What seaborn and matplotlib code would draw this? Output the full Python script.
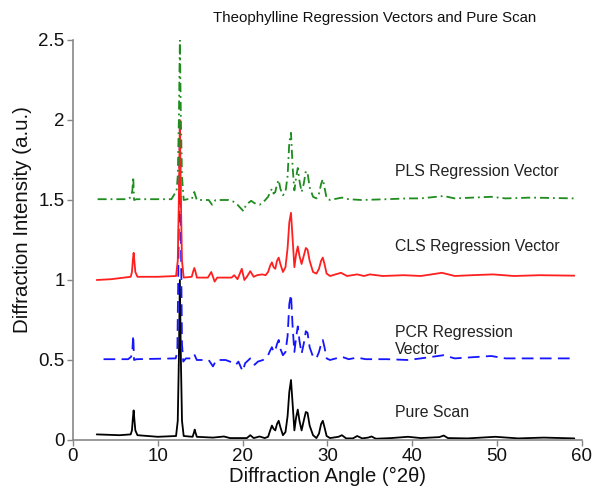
import matplotlib
matplotlib.use("Agg")
import matplotlib.pyplot as plt
import seaborn as sns

# Pure scan (black, offset 0)
pure_x = [2.8, 5.5, 6.8, 6.95, 7.05, 7.15, 7.25, 7.35, 7.6, 10.0,
          12.15, 12.35, 12.48, 12.6, 12.72, 12.85, 13.05,
          14.1, 14.25, 14.35, 14.45, 14.6,
          16.5, 17.8, 18.5, 20.5, 20.9, 21.3, 22.0, 22.6,
          23.0, 23.25, 23.45, 23.65, 23.85, 24.05, 24.25, 24.45,
          24.75, 25.05, 25.3, 25.5, 25.7, 25.9, 26.1, 26.3,
          26.5, 26.7, 26.95, 27.2, 27.45, 27.65, 27.9, 28.3,
          28.7, 29.0, 29.25, 29.45, 29.65, 29.9, 30.3,
          31.3, 31.7, 32.2, 33.0, 33.5, 34.1, 34.8, 35.2, 35.7,
          37.5, 39.5, 41.0, 43.2, 43.7, 44.2, 46.5, 49.8, 52.5,
          55.5, 59.1]
pure_y = [0.035, 0.03, 0.035, 0.06, 0.13, 0.185, 0.12, 0.06, 0.03, 0.02,
          0.025, 0.12, 0.5, 1.0, 0.5, 0.12, 0.025,
          0.02, 0.045, 0.065, 0.045, 0.02,
          0.015, 0.022, 0.012, 0.012, 0.03, 0.012, 0.022, 0.012,
          0.02, 0.06, 0.09, 0.07, 0.06, 0.1, 0.12, 0.08,
          0.03, 0.05, 0.15, 0.3, 0.375, 0.22, 0.06, 0.14,
          0.19, 0.12, 0.06, 0.12, 0.175, 0.17, 0.09, 0.03,
          0.012, 0.04, 0.1, 0.12, 0.08, 0.025, 0.012,
          0.02, 0.03, 0.01, 0.01, 0.025, 0.01, 0.015, 0.022, 0.008,
          0.012, 0.02, 0.012, 0.018, 0.028, 0.012, 0.01, 0.02, 0.01,
          0.015, 0.01]

# PCR regression vector (blue dashed, offset 0.5)
pcr_x = [3.6, 6.5, 6.85, 7.0, 7.1, 7.2, 7.5,
         12.1, 12.3, 12.45, 12.6, 12.72, 12.85, 13.0, 13.3,
         14.0, 14.3, 14.6, 16.0, 16.5, 16.9, 18.0, 18.5,
         19.2, 19.5, 20.0, 20.3, 20.9, 21.4, 21.8, 22.4,
         23.0, 23.25, 23.45, 23.65, 23.85, 24.05, 24.25, 24.45,
         24.75, 25.05, 25.3, 25.5, 25.7, 25.9, 26.1, 26.3,
         26.5, 26.7, 26.95, 27.2, 27.45, 27.65, 27.9, 28.3,
         28.7, 29.0, 29.25, 29.45, 29.65, 29.9, 30.3,
         31.7, 32.5, 33.5, 34.5, 37.0, 39.5, 41.0, 43.7, 45.0,
         49.3, 51.0, 54.0, 59.1]
pcr_y = [0.505, 0.505, 0.52, 0.56, 0.655, 0.50, 0.505,
         0.51, 0.55, 1.2, 1.95, 1.3, 0.6, 0.49, 0.51,
         0.51, 0.535, 0.5, 0.5, 0.46, 0.5, 0.5, 0.49,
         0.47, 0.49, 0.43, 0.48, 0.51, 0.47, 0.49, 0.5,
         0.53, 0.56, 0.58, 0.55, 0.56, 0.6, 0.625, 0.57,
         0.53, 0.55, 0.65, 0.85, 0.91, 0.7, 0.55, 0.64,
         0.71, 0.62, 0.54, 0.6, 0.68, 0.67, 0.58, 0.52,
         0.51, 0.55, 0.6, 0.625, 0.58, 0.51, 0.5,
         0.52, 0.505, 0.515, 0.505, 0.505, 0.5, 0.51, 0.53, 0.51,
         0.525, 0.51, 0.51, 0.51]

# CLS regression vector (red, offset 1.0)
cls_x = [2.8, 4.5, 6.8, 6.95, 7.05, 7.15, 7.25, 7.35, 7.6, 10.0,
         12.15, 12.35, 12.48, 12.6, 12.72, 12.85, 13.05,
         14.0, 14.15, 14.3, 14.45, 14.6,
         15.9, 16.3, 16.7, 17.0, 18.7, 19.0, 19.4, 19.9,
         20.2, 20.5, 20.9, 21.3, 21.7, 22.3, 22.7,
         23.0, 23.25, 23.45, 23.65, 23.85, 24.05, 24.25, 24.45,
         24.75, 25.05, 25.3, 25.5, 25.7, 25.9, 26.1, 26.3,
         26.5, 26.7, 26.95, 27.2, 27.45, 27.65, 27.9, 28.3,
         28.7, 29.0, 29.25, 29.45, 29.65, 29.9, 30.3,
         31.6, 32.3, 33.5, 34.3, 35.0, 36.5, 39.0, 41.0, 43.5,
         45.0, 47.0, 49.5, 52.0, 55.0, 59.1]
cls_y = [1.0, 1.005, 1.02, 1.05, 1.12, 1.17, 1.11, 1.05, 1.02, 1.02,
         1.025, 1.12, 1.5, 2.0, 1.5, 1.12, 1.015,
         1.02, 1.05, 1.075, 1.05, 1.015,
         1.015, 1.05, 0.99, 1.015, 1.015, 1.03, 1.005, 1.07,
         1.0, 1.02, 1.055, 1.02, 1.03, 1.035, 1.03,
         1.05, 1.09, 1.11, 1.08, 1.07, 1.12, 1.14, 1.1,
         1.05, 1.08, 1.2, 1.36, 1.42, 1.25, 1.08, 1.16,
         1.21, 1.15, 1.1, 1.15, 1.2, 1.19, 1.12, 1.05,
         1.04, 1.07, 1.12, 1.14, 1.1, 1.04, 1.025,
         1.045, 1.025, 1.035, 1.025, 1.035, 1.025, 1.03, 1.025, 1.045,
         1.025, 1.03, 1.035, 1.025, 1.03, 1.027]

# PLS regression vector (green dash-dot, offset 1.5)
pls_x = [2.9, 6.5, 6.85, 7.0, 7.1, 7.2, 7.5, 11.6, 12.0,
         12.2, 12.35, 12.48, 12.6, 12.72, 12.85, 13.05, 13.5,
         14.0, 14.3, 14.6, 16.0, 16.4, 16.8, 18.3, 18.9,
         19.4, 20.1, 20.4, 21.0, 21.4, 22.0, 22.5,
         23.0, 23.25, 23.45, 23.65, 23.85, 24.05, 24.25, 24.45,
         24.75, 25.05, 25.3, 25.5, 25.7, 25.9, 26.1, 26.3,
         26.5, 26.7, 26.95, 27.2, 27.45, 27.65, 27.9, 28.3,
         28.7, 29.0, 29.25, 29.45, 29.65, 29.9, 30.3,
         31.7, 32.5, 34.0, 37.0, 39.5, 41.0, 43.7, 45.0,
         49.3, 51.0, 54.0, 59.1]
pls_y = [1.505, 1.505, 1.52, 1.56, 1.645, 1.5, 1.505, 1.505, 1.54,
         1.55, 1.65, 2.0, 2.5, 2.0, 1.65, 1.5, 1.505,
         1.505, 1.55, 1.5, 1.5, 1.47, 1.5, 1.5, 1.49,
         1.47, 1.43, 1.47, 1.495, 1.48, 1.47, 1.49,
         1.52, 1.55, 1.57, 1.54, 1.55, 1.6, 1.625, 1.57,
         1.53, 1.55, 1.65, 1.86, 1.92, 1.7, 1.56, 1.64,
         1.70, 1.62, 1.55, 1.6, 1.68, 1.67, 1.58, 1.52,
         1.51, 1.54, 1.6, 1.63, 1.58, 1.51, 1.5,
         1.515, 1.505, 1.5, 1.505, 1.51, 1.51, 1.525, 1.51,
         1.52, 1.51, 1.515, 1.51]

trace_labels = ["Pure Scan", "PCR Regression\nVector",
                "CLS Regression Vector", "PLS Regression Vector"]
label_x = [38.0, 38.0, 38.0, 38.0]
label_y = [0.17, 0.62, 1.21, 1.675]

x_ticks = [0, 10, 20, 30, 40, 50, 60]
y_ticks = [0, 0.5, 1, 1.5, 2, 2.5]
y_tick_labels = ["0", "0.5", "1", "1.5", "2", "2.5"]


def main():
    sns.set_style("ticks")
    plt.rcParams['font.family'] = ['Liberation Sans', 'DejaVu Sans']

    fig = plt.figure(figsize=(5.92, 4.92), dpi=100)
    ax = fig.add_axes([0.1233, 0.1057, 0.8597, 0.813])

    traces = [
        (pure_x, pure_y, "black", None),
        (pcr_x, pcr_y, "#1515ff", (6.5, 3.5)),
        (cls_x, cls_y, "#ff1f1f", None),
        (pls_x, pls_y, "#1f8c1f", (5, 2.2, 1, 2.2)),
    ]
    for xs, ys, col, dash in traces:
        sns.lineplot(x=xs, y=ys, color=col, lw=1.3, sort=False,
                     estimator=None, ax=ax)
        if dash is not None:
            ax.lines[-1].set_dashes(dash)

    for txt, tx, ty in zip(trace_labels, label_x, label_y):
        ax.text(tx, ty, txt, fontsize=11.4, color="#222222",
                ha="left", va="center", linespacing=1.15)

    ax.set_xlim(0, 60)
    ax.set_ylim(0, 2.5)
    ax.set_xticks(x_ticks)
    ax.set_yticks(y_ticks)
    ax.set_yticklabels(y_tick_labels)
    ax.tick_params(axis='both', direction='out', length=4, width=1,
                   color="#888888", labelsize=13.5, labelcolor="#111111", pad=2)

    for side in ['top', 'right']:
        ax.spines[side].set_visible(False)
    for side in ['left', 'bottom']:
        ax.spines[side].set_color("#888888")
        ax.spines[side].set_linewidth(1.2)

    ax.set_xlabel("Diffraction Angle (°2θ)", fontsize=14.6, color="#111111", labelpad=1)
    ax.set_ylabel("Diffraction Intensity (a.u.)", fontsize=14.8, color="#111111")
    ax.yaxis.set_label_coords(-0.08, 0.55)

    fig.text(0.632, 0.963, "Theophylline Regression Vectors and Pure Scan",
             ha="center", va="center", fontsize=10.8, color="#111111")

    plt.savefig("out.png", dpi=100)
    plt.close()


if __name__ == '__main__':
    main()
